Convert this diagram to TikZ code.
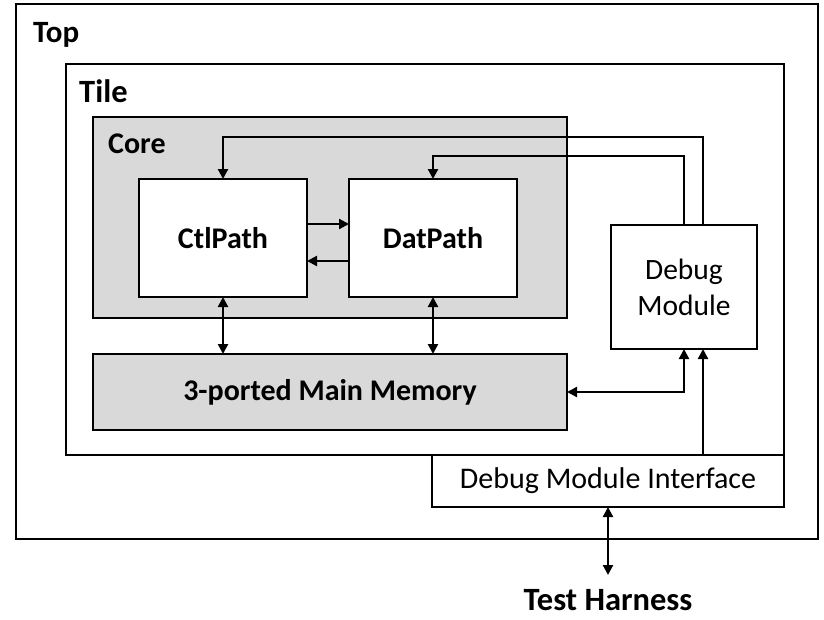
\documentclass[tikz,border=0pt]{standalone}
\usepackage{fontspec}
\setmainfont{Carlito}
\usetikzlibrary{arrows.meta}
\definecolor{coregray}{HTML}{D9D9D9}
\begin{document}
\begin{tikzpicture}[x=1pt,y=-1pt,
  box/.style={draw, line width=2.6pt, inner sep=0pt, outer sep=0pt, fill=white},
  graybox/.style={box, fill=coregray},
  tip/.tip={Triangle[length=10pt,width=10pt]},
  wire/.style={line width=2.2pt, -tip},
  biwire/.style={line width=2.2pt, tip-tip},
  title/.style={font=\bfseries\fontsize{31}{36}\selectfont, anchor=base west, inner sep=0pt},
  blocklabel/.style={font=\bfseries\fontsize{30}{36}\selectfont},
  plainlabel/.style={font=\fontsize{29.5}{36}\selectfont, align=center},
]
\useasboundingbox (0,0) rectangle (824,619);

% nested containers
\node[box, minimum width=802pt, minimum height=535pt] (top) at (417,271.5) {};
\node[box, minimum width=718pt, minimum height=391pt] (tile) at (425,259.5) {};
\node[graybox, minimum width=474pt, minimum height=201pt] (core) at (330,217.5) {};

\node[title] (toplbl) at (33,42) {Top};
\node[title, font=\bfseries\fontsize{32.5}{38}\selectfont] (tilelbl) at (79,102) {Tile};
\node[title, font=\bfseries\fontsize{30}{36}\selectfont] (corelbl) at (108,153) {Core};

% blocks
\node[box, blocklabel, minimum width=168pt, minimum height=118pt] (ctl) at (223,238) {CtlPath};
\node[box, blocklabel, minimum width=168pt, minimum height=118pt] (dat) at (433,238) {DatPath};
\node[graybox, blocklabel, minimum width=474pt, minimum height=76pt] (mem) at (330,392) {3-ported Main Memory};
\node[box, plainlabel, minimum width=146pt, minimum height=124pt] (dbg) at (684,287) {Debug\\Module};
\node[box, plainlabel, font=\fontsize{30}{36}\selectfont, minimum width=352pt, minimum height=52pt] (dmi) at (608,481) {Debug Module Interface};
\node[blocklabel, font=\bfseries\fontsize{32.5}{40}\selectfont, inner sep=0pt, anchor=base] (th) at (608,610) {Test Harness};
\coordinate (thtip) at (608,575);

% connections inside the core
\draw[wire] (ctl.east |- 0,224) -- (dat.west |- 0,224);
\draw[wire] (dat.west |- 0,261) -- (ctl.east |- 0,261);

% memory ports
\draw[biwire] (ctl.south) -- (ctl.south |- mem.north);
\draw[biwire] (dat.south) -- (dat.south |- mem.north);
\draw[biwire] (mem.east) -| (dbg.south);

% debug module control lines
\draw[wire] (dbg.north -| 703,0) |- (ctl.north |- 0,137) -- (ctl.north);
\draw[wire] (dbg.north) |- (dat.north |- 0,156) -- (dat.north);
\draw[wire] (dmi.north -| 703,0) -- (dbg.south -| 703,0);

% external interface
\draw[biwire] (dmi.south) -- (thtip);
\end{tikzpicture}
\end{document}
